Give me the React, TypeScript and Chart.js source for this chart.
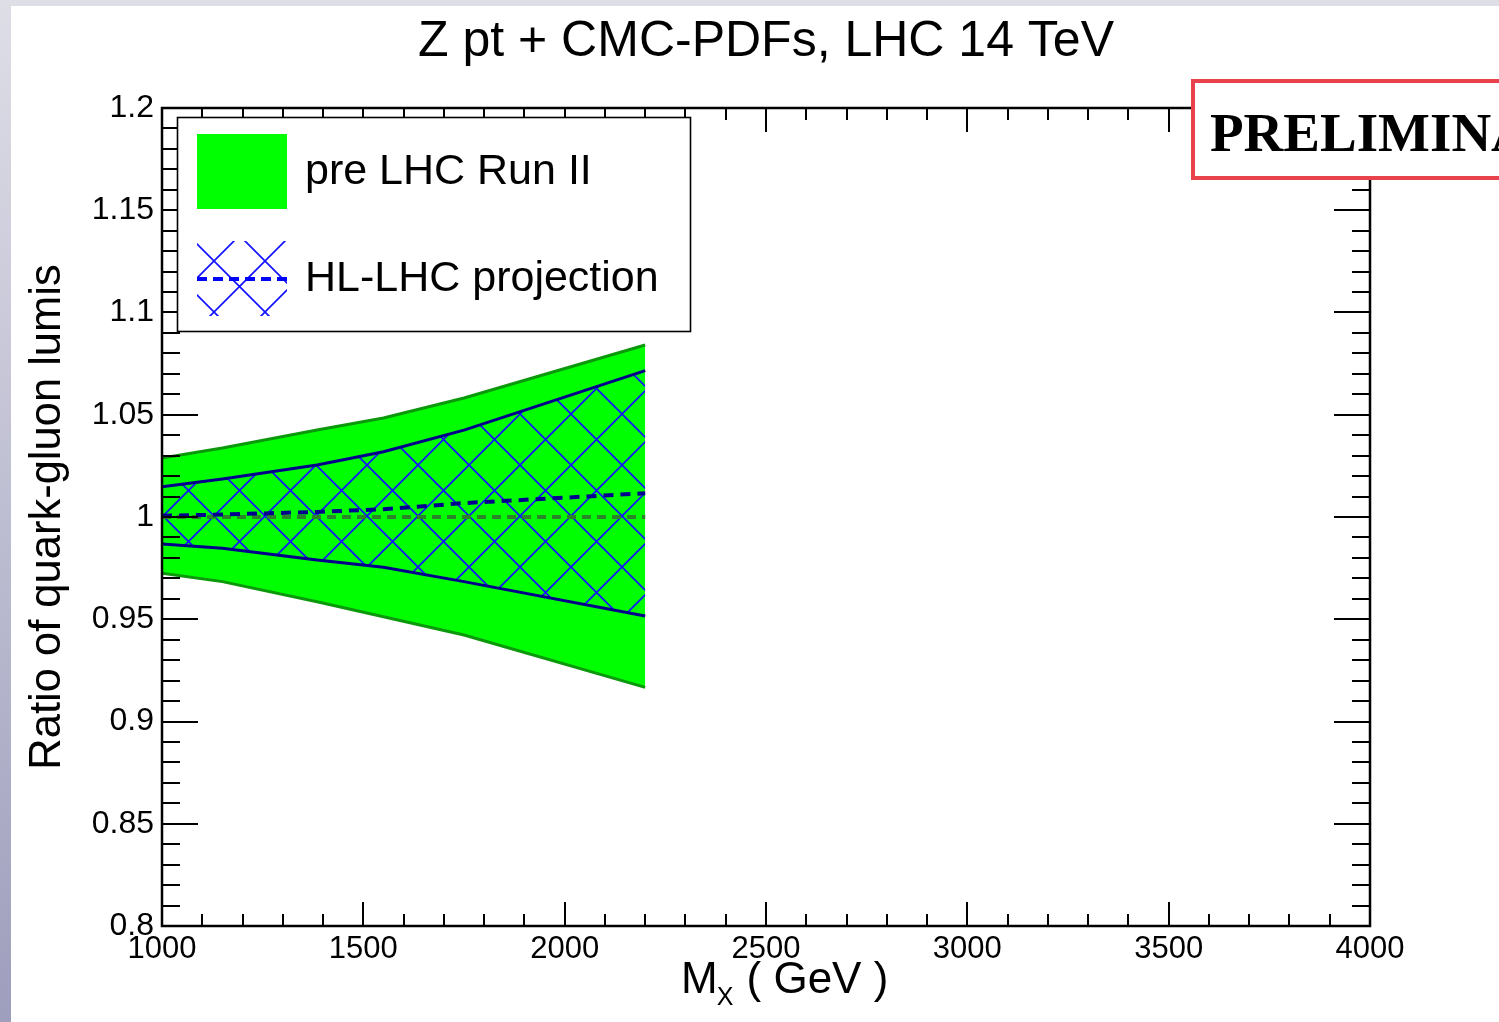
import React, { useEffect, useRef } from "react";
import { Chart, registerables } from "chart.js";

Chart.register(...registerables);

// ---- data ----
const massGeV = [1000, 1150, 1385, 1550, 1750, 2200];
const preRunIIUpper = [1.0289, 1.0337, 1.0425, 1.0484, 1.0582, 1.0841];
const preRunIILower = [0.9725, 0.9684, 0.9586, 0.9512, 0.9423, 0.9167];
const preRunIICentral = [1.0, 1.0, 1.0, 1.0, 1.0, 1.0];
const hlLhcUpper = [1.0148, 1.0186, 1.0254, 1.0319, 1.0425, 1.0716];
const hlLhcLower = [0.9868, 0.9847, 0.979, 0.9754, 0.9684, 0.9516];
const hlLhcCentral = [1.0006, 1.0012, 1.0025, 1.0038, 1.0068, 1.0116];

const xMajorTicks = [1000, 1500, 2000, 2500, 3000, 3500, 4000];
const yMajorTicks = [0.8, 0.85, 0.9, 0.95, 1.0, 1.05, 1.1, 1.15, 1.2];

const chartTitle = "Z pt + CMC-PDFs, LHC 14 TeV";
const yAxisTitle = "Ratio of quark-gluon lumis";
const legendLabels = ["pre LHC Run II", "HL-LHC projection"];
const stampText = "PRELIMINARY";

const SANS = "'Liberation Sans', Arial, Helvetica, sans-serif";
const SERIF = "'Liberation Serif', 'Times New Roman', serif";

const pts = (ys: number[]) => massGeV.map((x, i) => ({ x, y: ys[i] }));

function makeHatch(ctx: CanvasRenderingContext2D) {
  const s = 51;
  const pc = document.createElement("canvas");
  pc.width = s;
  pc.height = s;
  const p = pc.getContext("2d")!;
  p.strokeStyle = "#1414ff";
  p.lineWidth = 1.7;
  p.beginPath();
  for (let k = -1; k <= 1; k++) {
    p.moveTo(-s + k * s, -s);
    p.lineTo(2 * s + k * s, 2 * s);
    p.moveTo(2 * s + k * s, -s);
    p.lineTo(-s + k * s, 2 * s);
  }
  p.stroke();
  const pat = ctx.createPattern(pc, "repeat")!;
  try {
    pat.setTransform(new DOMMatrix().translate(163, 516));
  } catch (e) {}
  return pat;
}

export default function App() {
  const ref = useRef<HTMLCanvasElement>(null);

  useEffect(() => {
    const canvas = ref.current!;
    const ctx0 = canvas.getContext("2d")!;
    const hatch = makeHatch(ctx0);

    const decor = {
      id: "decor",
      beforeDraw(chart: any) {
        const ctx = chart.ctx as CanvasRenderingContext2D;
        const W = chart.width;
        const H = chart.height;
        ctx.save();
        const g = ctx.createLinearGradient(0, 0, 0, H);
        g.addColorStop(0, "#dedee7");
        g.addColorStop(1, "#9e9ebd");
        ctx.fillStyle = g;
        ctx.fillRect(0, 0, W, H);
        ctx.fillStyle = "#ffffff";
        ctx.fillRect(11, 6, W - 11, H - 6);
        ctx.restore();
      },
      afterDatasetsDraw(chart: any) {
        const ctx = chart.ctx as CanvasRenderingContext2D;
        const { left, right, top, bottom } = chart.chartArea;
        const xs = chart.scales.x;
        const ys = chart.scales.y;
        ctx.save();
        // ticks (ROOT style, inside, all four sides)
        ctx.strokeStyle = "#000";
        ctx.lineWidth = 2;
        ctx.beginPath();
        for (let v = 1000; v <= 4000; v += 100) {
          const major = v % 500 === 0;
          const L = major ? 24 : 12;
          const px = Math.round(xs.getPixelForValue(v));
          ctx.moveTo(px, bottom);
          ctx.lineTo(px, bottom - L);
          ctx.moveTo(px, top);
          ctx.lineTo(px, top + L);
        }
        for (let k = 80; k <= 120; k++) {
          const v = k / 100;
          const major = k % 5 === 0;
          const L = major ? 36 : 18;
          const py = Math.round(ys.getPixelForValue(v));
          ctx.moveTo(left, py);
          ctx.lineTo(left + L, py);
          ctx.moveTo(right, py);
          ctx.lineTo(right - L, py);
        }
        ctx.stroke();
        // frame
        ctx.lineWidth = 2.5;
        ctx.strokeRect(left, top, right - left, bottom - top);

        // legend
        ctx.fillStyle = "#fff";
        ctx.fillRect(177, 117, 514, 215);
        ctx.lineWidth = 1.6;
        ctx.strokeStyle = "#000";
        ctx.strokeRect(177.5, 117.5, 513, 214);
        ctx.fillStyle = "#00ff00";
        ctx.fillRect(197, 134, 90, 75);
        ctx.save();
        ctx.beginPath();
        ctx.rect(197, 241, 90, 75);
        ctx.clip();
        ctx.fillStyle = hatch;
        ctx.fillRect(197, 241, 90, 75);
        ctx.restore();
        ctx.save();
        ctx.setLineDash([10, 6]);
        ctx.strokeStyle = "#0000ff";
        ctx.lineWidth = 4;
        ctx.beginPath();
        ctx.moveTo(197, 279);
        ctx.lineTo(287, 279);
        ctx.stroke();
        ctx.restore();
        ctx.fillStyle = "#000";
        ctx.font = `43px ${SANS}`;
        ctx.textBaseline = "alphabetic";
        ctx.textAlign = "left";
        ctx.fillText(legendLabels[0], 305, 184);
        ctx.fillText(legendLabels[1], 305, 291);

        // PRELIMINARY stamp
        ctx.fillStyle = "#fff";
        ctx.fillRect(1193, 80, 400, 99);
        ctx.strokeStyle = "#e8424c";
        ctx.lineWidth = 4;
        ctx.strokeRect(1193, 81, 400, 97);
        ctx.fillStyle = "#000";
        ctx.font = `bold 55px ${SERIF}`;
        ctx.fillText(stampText, 1210, 151);

        // x-axis title with subscript
        ctx.font = `44px ${SANS}`;
        let x = 681;
        ctx.fillText("M", x, 993);
        x += ctx.measureText("M").width;
        ctx.font = `25px ${SANS}`;
        ctx.fillText("X", x - 1, 1005);
        x += ctx.measureText("X").width;
        ctx.font = `44px ${SANS}`;
        ctx.fillText(" ( GeV )", x, 993);
        ctx.restore();
      },
    };

    const chart = new Chart(canvas, {
      type: "line",
      data: {
        datasets: [
          {
            label: "hlCentral",
            data: pts(hlLhcCentral),
            borderColor: "#00008f",
            borderWidth: 4,
            borderDash: [10, 7],
            pointRadius: 0,
            fill: false,
          },
          {
            label: "preCentral",
            data: pts(preRunIICentral),
            borderColor: "#2a842a",
            borderWidth: 4,
            borderDash: [9, 6],
            pointRadius: 0,
            fill: false,
          },
          {
            label: "hlLower",
            data: pts(hlLhcLower),
            borderColor: "#00008b",
            borderWidth: 3,
            pointRadius: 0,
            fill: false,
          },
          {
            label: "hlUpper",
            data: pts(hlLhcUpper),
            borderColor: "#00008b",
            borderWidth: 3,
            pointRadius: 0,
            fill: { target: "-1" },
            backgroundColor: hatch as any,
          },
          {
            label: "preLower",
            data: pts(preRunIILower),
            borderColor: "#0b980b",
            borderWidth: 3,
            pointRadius: 0,
            fill: false,
          },
          {
            label: "preUpper",
            data: pts(preRunIIUpper),
            borderColor: "#0b980b",
            borderWidth: 3,
            pointRadius: 0,
            fill: { target: "-1" },
            backgroundColor: "#00ff00",
          },
        ],
      },
      options: {
        responsive: false,
        animation: false,
        devicePixelRatio: 1,
        layout: { padding: { left: 0, right: 129, top: 0, bottom: 0 } },
        plugins: {
          legend: { display: false },
          tooltip: { enabled: false },
          title: {
            display: true,
            fullSize: false,
            text: chartTitle,
            color: "#000",
            font: { size: 50, family: SANS, weight: "normal" as any, lineHeight: 1.2 },
            padding: { top: 12, bottom: 36 },
          },
        },
        scales: {
          x: {
            type: "linear",
            min: 1000,
            max: 4000,
            grid: { display: false, drawTicks: false },
            border: { display: false },
            afterBuildTicks: (s: any) => {
              s.ticks = xMajorTicks.map((v) => ({ value: v }));
            },
            ticks: {
              color: "#000",
              font: { size: 31, family: SANS },
              padding: 5,
              maxRotation: 0,
              autoSkip: false,
              callback: (v: any) => String(v),
            },
            afterFit: (s: any) => {
              s.height = 96;
            },
          },
          y: {
            type: "linear",
            min: 0.8,
            max: 1.2,
            grid: { display: false, drawTicks: false },
            border: { display: false },
            afterBuildTicks: (s: any) => {
              s.ticks = yMajorTicks.map((v) => ({ value: v }));
            },
            ticks: {
              color: "#000",
              font: { size: 32, family: SANS },
              padding: 8,
              autoSkip: false,
              callback: (v: any) => String(Number(Number(v).toFixed(2))),
            },
            title: {
              display: true,
              text: yAxisTitle,
              color: "#000",
              font: { size: 43.5, family: SANS, lineHeight: 1.2 },
              padding: { top: 22, bottom: 0 },
            },
            afterFit: (s: any) => {
              s.width = 162;
            },
          },
        },
      },
      plugins: [decor],
    });

    return () => chart.destroy();
  }, []);

  return (
    <div style={{ position: "fixed", left: 0, top: 0, width: 1499, height: 1022 }}>
      <canvas ref={ref} width={1499} height={1022} style={{ display: "block", width: 1499, height: 1022 }} />
    </div>
  );
}
